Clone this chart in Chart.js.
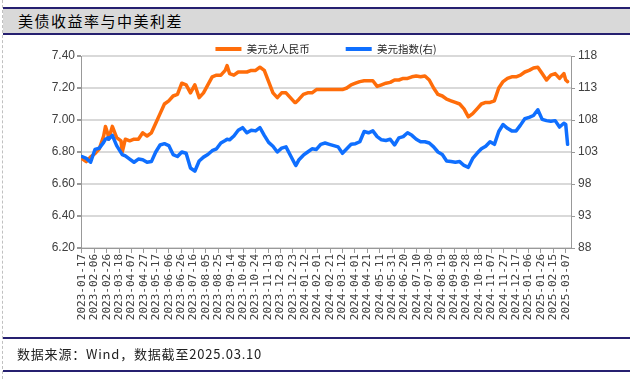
<!DOCTYPE html>
<html><head><meta charset="utf-8">
<script src="https://cdn.jsdelivr.net/npm/chart.js@4.4.0/dist/chart.umd.min.js"></script>
<style>
html,body{margin:0;padding:0;background:#fff;}
#wrap{position:relative;width:633px;height:379px;overflow:hidden;background:#fff;}
#c{position:absolute;left:0;top:0;}
.nv{position:absolute;left:3px;width:627px;height:2px;background:#262070;z-index:2;}
#title{position:absolute;left:3px;width:627px;top:9px;height:24px;background:#d9d9d9;z-index:2;
  font-family:"Noto Sans CJK SC",sans-serif;font-size:15px;line-height:24px;color:#000;letter-spacing:1.5px;}
#title span{position:absolute;left:15px;top:0;}
#foot{position:absolute;left:17px;top:345px;z-index:2;font-family:"Noto Sans CJK SC",sans-serif;font-size:13px;line-height:18px;color:#222;letter-spacing:0.8px;white-space:nowrap;}
#dash{position:absolute;left:2px;top:0;height:379px;border-left:1px dashed #c0c0c0;z-index:3;}
</style></head>
<body>
<div id="wrap">
<canvas id="c" width="633" height="379"></canvas>
<div class="nv" style="top:7px"></div>
<div id="title"><span>美债收益率与中美利差</span></div>
<div class="nv" style="top:33px"></div>
<div class="nv" style="top:337px"></div>
<div id="foot">数据来源：Wind，数据截至2025.03.10</div>
<div class="nv" style="top:370px"></div>
<div id="dash"></div>
</div>
<script>
const seriesNames = ['美元兑人民币', '美元指数(右)'];
const tickLabels = ['2023-01-17','2023-02-06','2023-02-26','2023-03-18','2023-04-07','2023-04-27','2023-05-17','2023-06-06','2023-06-26','2023-07-16','2023-08-05','2023-08-25','2023-09-14','2023-10-04','2023-10-24','2023-11-13','2023-12-03','2023-12-23','2024-01-12','2024-02-01','2024-02-21','2024-03-12','2024-04-01','2024-04-21','2024-05-11','2024-05-31','2024-06-20','2024-07-10','2024-07-30','2024-08-19','2024-09-08','2024-09-28','2024-10-18','2024-11-07','2024-11-27','2024-12-17','2025-01-06','2025-01-26','2025-02-15','2025-03-07'];
const dates = ['2023-01-17','2023-01-24','2023-01-31','2023-02-07','2023-02-14','2023-02-21','2023-02-24','2023-02-28','2023-03-01','2023-03-07','2023-03-14','2023-03-21','2023-03-23','2023-03-28','2023-04-04','2023-04-11','2023-04-18','2023-04-25','2023-05-02','2023-05-09','2023-05-16','2023-05-23','2023-05-30','2023-06-06','2023-06-13','2023-06-20','2023-06-27','2023-07-04','2023-07-11','2023-07-18','2023-07-25','2023-08-01','2023-08-08','2023-08-15','2023-08-22','2023-08-29','2023-09-05','2023-09-08','2023-09-12','2023-09-19','2023-09-26','2023-10-03','2023-10-10','2023-10-17','2023-10-24','2023-10-31','2023-11-07','2023-11-14','2023-11-21','2023-11-28','2023-12-05','2023-12-12','2023-12-19','2023-12-26','2023-12-28','2024-01-02','2024-01-09','2024-01-16','2024-01-23','2024-01-30','2024-02-06','2024-02-13','2024-02-20','2024-02-27','2024-03-05','2024-03-12','2024-03-19','2024-03-26','2024-04-02','2024-04-09','2024-04-16','2024-04-23','2024-04-30','2024-05-07','2024-05-14','2024-05-21','2024-05-28','2024-06-04','2024-06-11','2024-06-18','2024-06-25','2024-07-02','2024-07-09','2024-07-16','2024-07-23','2024-07-30','2024-08-06','2024-08-13','2024-08-20','2024-08-27','2024-09-03','2024-09-10','2024-09-17','2024-09-24','2024-10-01','2024-10-08','2024-10-15','2024-10-22','2024-10-29','2024-11-05','2024-11-12','2024-11-19','2024-11-26','2024-12-03','2024-12-10','2024-12-17','2024-12-24','2024-12-31','2025-01-07','2025-01-14','2025-01-21','2025-01-28','2025-02-04','2025-02-11','2025-02-18','2025-02-25','2025-03-04','2025-03-07','2025-03-10'];
const usdcny = [6.76,6.74,6.77,6.79,6.82,6.90,6.96,6.91,6.88,6.96,6.89,6.87,6.80,6.88,6.87,6.88,6.88,6.92,6.90,6.92,6.98,7.04,7.10,7.12,7.15,7.16,7.23,7.22,7.17,7.22,7.14,7.17,7.22,7.27,7.28,7.28,7.31,7.34,7.29,7.28,7.30,7.30,7.30,7.31,7.31,7.33,7.31,7.24,7.17,7.14,7.17,7.17,7.14,7.11,7.11,7.13,7.16,7.17,7.17,7.19,7.19,7.19,7.19,7.19,7.19,7.19,7.20,7.22,7.23,7.24,7.245,7.245,7.245,7.21,7.22,7.23,7.235,7.25,7.25,7.26,7.26,7.27,7.275,7.27,7.275,7.25,7.20,7.16,7.15,7.13,7.12,7.11,7.10,7.07,7.02,7.04,7.07,7.10,7.11,7.11,7.12,7.20,7.24,7.26,7.27,7.27,7.28,7.30,7.31,7.325,7.33,7.29,7.25,7.28,7.29,7.26,7.29,7.25,7.24];
const dxy = [102.3,102.0,101.4,103.4,103.6,104.5,105.0,105.2,105.0,105.6,104.0,102.9,102.6,102.4,101.9,101.4,101.9,101.8,101.4,101.5,103.0,104.1,104.3,104.0,102.6,102.3,103.0,102.8,100.5,100.0,101.6,102.2,102.6,103.2,103.5,104.4,104.8,105.0,104.9,105.5,106.4,106.8,106.0,106.4,106.3,106.8,105.6,104.5,103.9,103.0,103.6,103.8,102.5,101.2,100.9,101.8,102.5,103.0,103.5,103.4,104.2,104.4,104.2,104.0,103.8,102.8,103.5,104.2,104.3,104.6,106.2,106.0,106.3,105.4,104.9,104.8,105.0,104.1,105.2,105.4,106.0,105.6,105.0,104.6,104.6,104.4,103.8,103.0,102.6,101.6,101.5,101.4,101.5,100.9,100.6,102.0,102.8,103.5,103.9,104.6,104.2,106.2,107.3,106.7,106.3,106.3,107.2,108.2,108.4,108.7,109.6,108.1,107.9,107.8,107.9,106.9,107.5,107.3,104.2];

const base = Date.UTC(2023, 0, 17);
function dayOf(s){const p=s.split('-').map(Number);return Math.round((Date.UTC(p[0],p[1]-1,p[2])-base)/86400000);}
const labelByDay = {};
tickLabels.forEach(s => { labelByDay[dayOf(s)] = s; });

const ORANGE = '#FF6D0A', BLUE = '#0F6FFF';
const axisFont = {family: '"Liberation Sans Narrow","Liberation Sans",Arial,sans-serif', size: 12};

new Chart(document.getElementById('c'), {
  type: 'line',
  data: {
    datasets: [
      {label: seriesNames[0], data: dates.map((d,i)=>({x: dayOf(d), y: usdcny[i]})), yAxisID: 'y',
       borderColor: ORANGE, backgroundColor: ORANGE, borderWidth: 3.5, pointRadius: 0, tension: 0, order: 1,
       borderJoinStyle: 'round', borderCapStyle: 'round'},
      {label: seriesNames[1], data: dates.map((d,i)=>({x: dayOf(d), y: dxy[i]})), yAxisID: 'y1',
       borderColor: BLUE, backgroundColor: BLUE, borderWidth: 3.5, pointRadius: 0, tension: 0, order: 0,
       borderJoinStyle: 'round', borderCapStyle: 'round'}
    ]
  },
  options: {
    responsive: false, animation: false,
    layout: {padding: {left: 19, right: 0, top: 7.75, bottom: 44}},
    plugins: {
      tooltip: {enabled: false},
      legend: {
        position: 'top', maxHeight: 48.25,
        labels: {
          boxWidth: 26, boxHeight: 4, padding: 36, color: '#262626',
          font: {family: '"Noto Sans CJK SC",sans-serif', size: 10.5},
          sort: (a,b) => a.datasetIndex - b.datasetIndex,
          generateLabels: (chart) => Chart.defaults.plugins.legend.labels.generateLabels(chart).map(l => Object.assign(l, {lineWidth: 0}))
        }
      }
    },
    scales: {
      x: {
        type: 'linear', min: -1.5, max: 788.5,
        afterBuildTicks: (s) => { s.ticks = tickLabels.map(t => ({value: dayOf(t)})); },
        afterFit: (s) => { s.height = 87; },
        grid: {drawOnChartArea: false, drawTicks: true, tickLength: 5, tickColor: '#999'},
        border: {color: '#999', width: 1},
        ticks: {autoSkip: false, maxRotation: 90, minRotation: 90, padding: 1, color: '#404040',
          font: {family: '"DejaVu Sans Mono",monospace', size: 11},
          callback: (v) => labelByDay[v] || ''}
      },
      y: {
        position: 'left', min: 6.2, max: 7.4,
        afterFit: (s) => { s.width = 62; },
        grid: {color: '#d9d9d9', lineWidth: 2, tickColor: '#999', tickLength: 4},
        border: {color: '#999', width: 1},
        ticks: {stepSize: 0.2, padding: 2, color: '#404040', font: axisFont, callback: (v) => Number(v).toFixed(2)}
      },
      y1: {
        position: 'right', min: 88, max: 118,
        afterFit: (s) => { s.width = 62; },
        grid: {drawOnChartArea: false, tickColor: '#999', tickLength: 4},
        border: {color: '#999', width: 1},
        ticks: {stepSize: 5, padding: 3, color: '#404040', font: axisFont}
      }
    }
  }
});
</script>
</body></html>
